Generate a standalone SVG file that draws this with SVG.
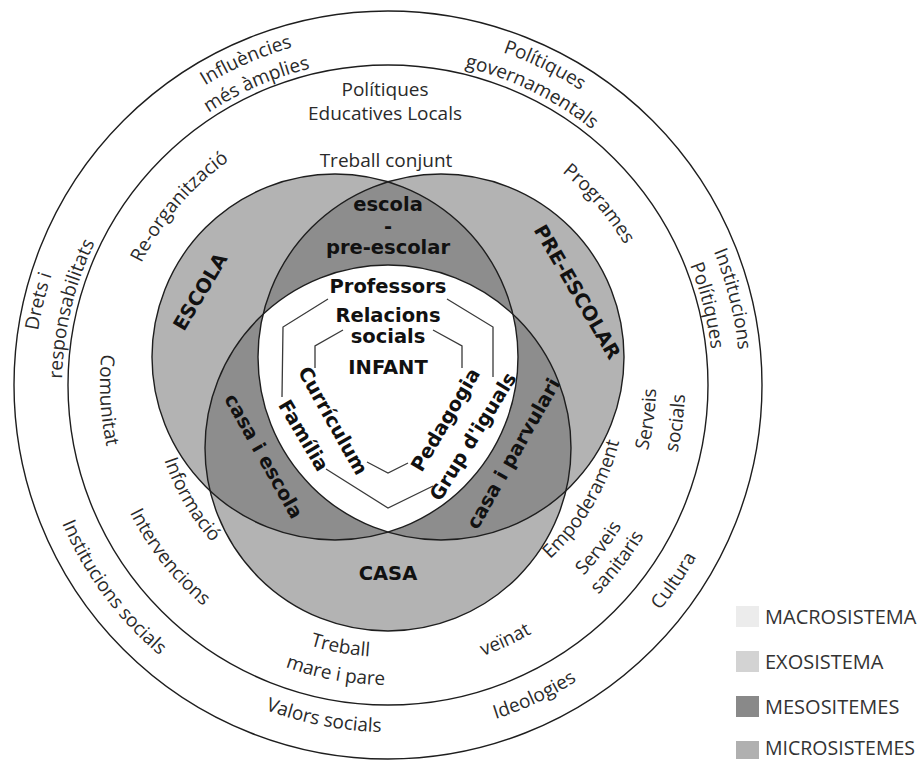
<svg xmlns="http://www.w3.org/2000/svg" width="922" height="760" viewBox="0 0 922 760">
<style>
.ln{fill:none;stroke:#1e1e1e;stroke-width:1.4}
.t{font-family:"Open Sans","Liberation Sans",sans-serif;font-size:19px;fill:#2a2a2a}
.b{font-family:"DejaVu Sans","Liberation Sans",sans-serif;font-weight:bold;font-size:19.5px;fill:#111}
.m{text-anchor:middle}
.sh{fill:none;stroke:#3a3a3a;stroke-width:1.3}
.lg{font-family:"Open Sans","Liberation Sans",sans-serif;font-size:20px;fill:#333}
</style>
<defs>
<clipPath id="cE"><circle cx="335" cy="357" r="183"/></clipPath>
<clipPath id="cP"><circle cx="441" cy="357" r="183"/></clipPath>
<path id="cw351" d="M-303.97,-175.5 A351,351 0 0 1 303.97,-175.5"/>
<path id="cw326" d="M-282.32,-163 A326,326 0 0 1 282.32,-163"/>
<path id="cw352" d="M-304.84,-176 A352,352 0 0 1 304.84,-176"/>
<path id="cw327" d="M-283.19,-163.5 A327,327 0 0 1 283.19,-163.5"/>
<path id="cw325" d="M-281.46,-162.5 A325,325 0 0 1 281.46,-162.5"/>
<path id="cw354" d="M-306.58,-177 A354,354 0 0 1 306.58,-177"/>
<path id="cw275" d="M-238.16,-137.5 A275,275 0 0 1 238.16,-137.5"/>
<path id="ccw354" d="M-306.58,177 A354,354 0 0 0 306.58,177"/>
<path id="ccw347" d="M-300.51,173.5 A347,347 0 0 0 300.51,173.5"/>
<path id="ccw351" d="M-303.97,175.5 A351,351 0 0 0 303.97,175.5"/>
<path id="ccw353" d="M-305.71,176.5 A353,353 0 0 0 305.71,176.5"/>
<path id="ccw288" d="M-249.42,144 A288,288 0 0 0 249.42,144"/>
<path id="ccw236" d="M-204.38,118 A236,236 0 0 0 204.38,118"/>
<path id="ccw272" d="M-235.56,136 A272,272 0 0 0 235.56,136"/>
<path id="ccw300" d="M-259.81,150 A300,300 0 0 0 259.81,150"/>
<path id="ccw287" d="M-248.55,143.5 A287,287 0 0 0 248.55,143.5"/>
<path id="ccw238" d="M-206.12,119 A238,238 0 0 0 206.12,119"/>
<path id="ccw273" d="M-236.42,136.5 A273,273 0 0 0 236.42,136.5"/>
<path id="ccw297" d="M-257.21,148.5 A297,297 0 0 0 257.21,148.5"/>
<path id="ccw268" d="M-232.09,134 A268,268 0 0 0 232.09,134"/>
</defs>
<rect width="922" height="760" fill="#ffffff"/>

<g id="macrosistema">
<circle cx="388" cy="385" r="374" fill="#ededed" class="ln"/>
</g>
<g id="exosistema">
<circle cx="388" cy="385" r="320" fill="#d6d6d6" class="ln"/>
</g>
<g id="microsistemes">
<circle id="escola" cx="335" cy="357" r="183" fill="#b3b3b3"/>
<circle id="preescolar" cx="441" cy="357" r="183" fill="#b3b3b3"/>
<circle id="casa" cx="388" cy="448" r="183" fill="#b3b3b3"/>
</g>
<g id="mesosistemes" fill="#8d8d8d">
<circle cx="441" cy="357" r="183" clip-path="url(#cE)"/>
<circle cx="388" cy="448" r="183" clip-path="url(#cE)"/>
<circle cx="388" cy="448" r="183" clip-path="url(#cP)"/>
</g>
<g id="infant" clip-path="url(#cE)">
<circle cx="388" cy="448" r="183" fill="#ffffff" clip-path="url(#cP)"/>
</g>
<g id="outlines" class="ln">
<circle cx="335" cy="357" r="183"/>
<circle cx="441" cy="357" r="183"/>
<circle cx="388" cy="448" r="183"/>
</g>

<g id="connectors" class="sh">
<path d="M328,299 L283,327 L282,397 M326,469 L388,508 L433,486 M493,377 L493,327 L447,299"/>
<path d="M343,330 L315,346 L315,368 M367,462 L388,473 L408,463 M462,368 L462,346 L433,330"/>
</g>

<g id="macro-labels" class="t m">
<g transform="translate(388,385) rotate(-23.6)"><text><textPath href="#cw351" startOffset="50%">Influències</textPath></text><text><textPath href="#cw326" startOffset="50%">més àmplies</textPath></text></g>
<g transform="translate(388,385) rotate(26.1)"><text><textPath href="#cw352" startOffset="50%">Polítiques</textPath></text><text><textPath href="#cw327" startOffset="50%">governamentals</textPath></text></g>
<g transform="translate(388,385) rotate(76)"><text><textPath href="#cw352" startOffset="50%">Institucions</textPath></text><text><textPath href="#cw325" startOffset="50%">Polítiques</textPath></text></g>
<g transform="translate(388,385) rotate(-76.5)"><text><textPath href="#cw354" startOffset="50%">Drets i</textPath></text><text><textPath href="#cw326" startOffset="50%">responsabilitats</textPath></text></g>
<g transform="translate(388,385) rotate(53.6)"><text><textPath href="#ccw354" startOffset="50%">Institucions socials</textPath></text></g>
<g transform="translate(388,385) rotate(10.9)"><text><textPath href="#ccw347" startOffset="50%">Valors socials</textPath></text></g>
<g transform="translate(388,385) rotate(-25.2)"><text><textPath href="#ccw351" startOffset="50%">Ideologies</textPath></text></g>
<g transform="translate(388,385) rotate(-55.6)"><text><textPath href="#ccw353" startOffset="50%">Cultura</textPath></text></g>
</g>

<g id="exo-labels" class="t m">
<text x="385" y="96">Polítiques</text>
<text x="385" y="120">Educatives Locals</text>
<text x="386" y="167">Treball conjunt</text>
<g transform="translate(388,385) rotate(-49.5)"><text><textPath href="#cw275" startOffset="50%">Re-organització</textPath></text></g>
<g transform="translate(388,385) rotate(49.3)"><text><textPath href="#cw275" startOffset="50%">Programes</textPath></text></g>
<g transform="translate(388,385) rotate(86.9)"><text><textPath href="#ccw288" startOffset="50%">Comunitat</textPath></text></g>
<g transform="translate(388,385) rotate(59.8)"><text><textPath href="#ccw236" startOffset="50%">Informació</textPath></text></g>
<g transform="translate(388,385) rotate(51.8)"><text><textPath href="#ccw288" startOffset="50%">Intervencions</textPath></text></g>
<g transform="translate(388,385) rotate(10.3)"><text><textPath href="#ccw272" startOffset="50%">Treball</textPath></text><text><textPath href="#ccw300" startOffset="50%">mare i pare</textPath></text></g>
<g transform="translate(388,385) rotate(-24.7)"><text><textPath href="#ccw287" startOffset="50%">veïnat</textPath></text></g>
<g transform="translate(388,385) rotate(-59.6)"><text><textPath href="#ccw238" startOffset="50%">Empoderament</textPath></text></g>
<g transform="translate(388,385) rotate(-52.3)"><text><textPath href="#ccw273" startOffset="50%">Serveis</textPath></text><text><textPath href="#ccw297" startOffset="50%">sanitaris</textPath></text></g>
<g transform="translate(388,385) rotate(-82.5)"><text><textPath href="#ccw268" startOffset="50%">Serveis</textPath></text><text><textPath href="#ccw297" startOffset="50%">socials</textPath></text></g>
</g>

<g id="micro-labels" class="b m">
<text transform="translate(200,291.5) rotate(-59)" dy="0.36em">ESCOLA</text>
<text transform="translate(577.5,291.7) rotate(59.8)" dy="0.36em">PRE-ESCOLAR</text>
<text x="388" y="580">CASA</text>
</g>

<g id="meso-labels" class="b m">
<text x="388" y="211">escola</text>
<text x="388" y="233">-</text>
<text x="388" y="254">pre-escolar</text>
<text transform="translate(263,456.5) rotate(60.7)" dy="0.3em">casa i escola</text>
<text transform="translate(514,454) rotate(-60.5)" dy="0.3em">casa i parvulari</text>
</g>

<g id="infant-labels" class="b m">
<text x="388" y="293">Professors</text>
<text x="388" y="322">Relacions</text>
<text x="388" y="343">socials</text>
<text x="388" y="374">INFANT</text>
<text transform="translate(332.5,421) rotate(60.6)" dy="0.32em">Currículum</text>
<text transform="translate(303.3,435.8) rotate(59.3)" dy="0.32em">Família</text>
<text transform="translate(445.8,420) rotate(-59.5)" dy="0.32em">Pedagogia</text>
<text transform="translate(473.3,436.7) rotate(-58.3)" dy="0.32em">Grup d'iguals</text>
</g>

<g id="legend">
<rect x="736" y="606" width="23" height="21" fill="#ececec"/>
<rect x="736" y="651" width="23" height="21" fill="#d3d3d3"/>
<rect x="736" y="696" width="23" height="21" fill="#898989"/>
<rect x="736" y="741" width="23" height="18" fill="#b0b0b0"/>
<text class="lg" x="765" y="624">MACROSISTEMA</text>
<text class="lg" x="765" y="669">EXOSISTEMA</text>
<text class="lg" x="765" y="714">MESOSITEMES</text>
<text class="lg" x="765" y="755" textLength="150" lengthAdjust="spacingAndGlyphs">MICROSISTEMES</text>
</g>
</svg>
